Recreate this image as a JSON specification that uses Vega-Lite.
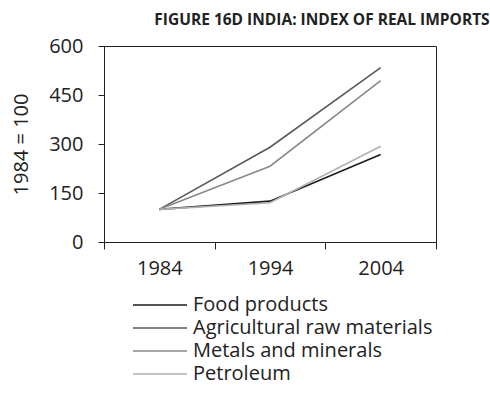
{
  "$schema": "https://vega.github.io/schema/vega-lite/v6.json",
  "autosize": "none",
  "width": 332,
  "height": 196,
  "padding": {"left": 104, "top": 46, "right": 54, "bottom": 164},
  "background": "white",
  "title": {
    "text": "FIGURE 16D INDIA: INDEX OF REAL IMPORTS",
    "font": "Open Sans",
    "fontSize": 15.5,
    "fontWeight": "bold",
    "color": "#222",
    "anchor": "middle",
    "dx": 52,
    "offset": 8
  },
  "config": {
    "view": {"stroke": "#222", "strokeWidth": 1},
    "font": "Open Sans"
  },
  "data": {
    "values": [
      {"year": 1984, "series": "Food products", "value": 100},
      {"year": 1994, "series": "Food products", "value": 125},
      {"year": 2004, "series": "Food products", "value": 268},
      {"year": 1984, "series": "Agricultural raw materials", "value": 100},
      {"year": 1994, "series": "Agricultural raw materials", "value": 290},
      {"year": 2004, "series": "Agricultural raw materials", "value": 534},
      {"year": 1984, "series": "Metals and minerals", "value": 100},
      {"year": 1994, "series": "Metals and minerals", "value": 232},
      {"year": 2004, "series": "Metals and minerals", "value": 494},
      {"year": 1984, "series": "Petroleum", "value": 100},
      {"year": 1994, "series": "Petroleum", "value": 120},
      {"year": 2004, "series": "Petroleum", "value": 293}
    ]
  },
  "mark": {"type": "line", "strokeWidth": 1.6},
  "encoding": {
    "x": {
      "field": "year",
      "type": "quantitative",
      "scale": {"domain": [1979, 2009], "nice": false, "zero": false},
      "axis": {
        "title": null,
        "values": [1979, 1984, 1989, 1994, 1999, 2004, 2009],
        "labelExpr": "(datum.value == 1984 || datum.value == 1994 || datum.value == 2004) ? datum.value : ''",
        "format": "d",
        "grid": false,
        "domainColor": "#222",
        "tickColor": "#222",
        "tickSize": 7,
        "tickOpacity": {"condition": {"test": "datum.value == 1979 || datum.value == 1989 || datum.value == 1999 || datum.value == 2009", "value": 1}, "value": 0},
        "labelFontSize": 20,
        "labelColor": "#222",
        "labelPadding": 9,
        "labelFont": "Open Sans"
      }
    },
    "y": {
      "field": "value",
      "type": "quantitative",
      "scale": {"domain": [0, 600], "nice": false},
      "axis": {
        "title": "1984 = 100",
        "titleFontSize": 20,
        "titleFontWeight": "normal",
        "titleColor": "#222",
        "titlePadding": 17,
        "titleFont": "Open Sans",
        "values": [0, 150, 300, 450, 600],
        "grid": false,
        "domainColor": "#222",
        "tickColor": "#222",
        "tickSize": 6,
        "labelFontSize": 20,
        "labelColor": "#222",
        "labelPadding": 15,
        "labelFont": "Open Sans"
      }
    },
    "color": {
      "field": "series",
      "type": "nominal",
      "sort": ["Food products", "Agricultural raw materials", "Metals and minerals", "Petroleum"],
      "scale": {
        "domain": ["Food products", "Agricultural raw materials", "Metals and minerals", "Petroleum"],
        "range": ["#1a1a1a", "#5a5a5a", "#8a8a8a", "#b0b0b0"]
      },
      "legend": {
        "title": null,
        "orient": "none",
        "legendX": 64,
        "legendY": 249,
        "symbolType": "M-5,0H1",
        "symbolSize": 324,
        "symbolStrokeWidth": 1.6,
        "labelFontSize": 20,
        "labelColor": "#222",
        "labelFont": "Open Sans",
        "labelOffset": 5,
        "rowPadding": 3,
        "labelLimit": 400
      }
    }
  }
}
